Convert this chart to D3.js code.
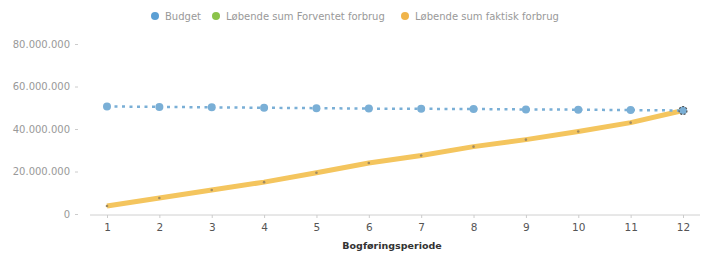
<!DOCTYPE html>
<html><head><meta charset="utf-8">
<script src="https://cdn.jsdelivr.net/npm/d3@7"></script>
<style>body{margin:0;background:#fff;}svg{display:block;font-family:"DejaVu Sans",Verdana,sans-serif;}</style>
</head><body><svg id="c" width="705" height="257"></svg>
<script>
const periods = [1,2,3,4,5,6,7,8,9,10,11,12];
const budget = [50600000,50400000,50200000,50000000,49800000,49600000,49500000,49400000,49200000,49100000,48900000,48700000];
const forventet = [3800000,7500000,11300000,15000000,19400000,24000000,27500000,31700000,35000000,38800000,43000000,48700000];
const faktisk = [3800000,7500000,11300000,15000000,19400000,24000000,27500000,31700000,35000000,38800000,43000000,48700000];
const yTicks = [0,20000000,40000000,60000000,80000000];
const seriesNames = ["Budget","Løbende sum Forventet forbrug","Løbende sum faktisk forbrug"];
const xTitle = "Bogføringsperiode";

const svg = d3.select("#c");
const x = d3.scaleLinear().domain([1,12]).range([107,683]);
const y = d3.scaleLinear().domain([0,80000000]).range([214,44]);
const loc = d3.formatLocale({decimal:",",thousands:".",grouping:[3],currency:["","kr"]});
const fmt = loc.format(",d");

// y axis labels
const ya = svg.append("g").attr("transform","translate(78,0)")
  .call(d3.axisLeft(y).tickValues(yTicks).tickFormat(fmt).tickSize(3).tickPadding(5))
  .attr("font-family","DejaVu Sans");
ya.select(".domain").remove();
ya.selectAll("line").attr("stroke","#ccc");
ya.selectAll("text").attr("fill","#999").style("font-size","10px");

// x axis
const xa = svg.append("g").attr("transform","translate(0,215)")
  .call(d3.axisBottom(x).tickValues(periods).tickFormat(d3.format("d")).tickSize(3).tickPadding(6))
  .attr("font-family","DejaVu Sans");
xa.select(".domain").attr("d","M90,0H700").attr("stroke","#d0d0d0");
xa.selectAll("line").attr("stroke","#ccc");
xa.selectAll("text").attr("fill","#555").style("font-size","10.5px");

svg.append("text").attr("x",392).attr("y",249).attr("text-anchor","middle")
  .style("font-size","9.5px").style("font-weight","bold").attr("fill","#333").text(xTitle);

const line = d3.line().x((d,i)=>x(periods[i])).y(d=>y(d));

// green (under orange)
svg.append("path").datum(forventet).attr("d",line).attr("fill","none")
  .attr("stroke","#8bc34a").attr("stroke-width",2);
// orange
svg.append("path").datum(faktisk).attr("d",line).attr("fill","none")
  .attr("stroke","#f4c55e").attr("stroke-width",5).attr("stroke-linejoin","round");
svg.append("g").selectAll("circle").data(faktisk).join("circle")
  .attr("cx",(d,i)=>x(periods[i])).attr("cy",d=>y(d)).attr("r",1.3).attr("fill","#a08a60");

// budget dashed
svg.append("path").datum(budget).attr("d",line).attr("fill","none")
  .attr("stroke","#7aafd6").attr("stroke-width",2.5).attr("stroke-dasharray","3,4.5");
svg.append("g").selectAll("circle").data(budget).join("circle")
  .attr("cx",(d,i)=>x(periods[i])).attr("cy",d=>y(d)).attr("r",4).attr("fill","#7aafd6");
svg.append("circle").attr("cx",x(12)).attr("cy",y(faktisk[11])).attr("r",4)
  .attr("fill","none").attr("stroke","#555").attr("stroke-width",1.2).attr("stroke-dasharray","2,1.5");

// legend
const colors = ["#5b9fd4","#8bc34a","#f0b44a"];
const legX = [155,216,405];
seriesNames.forEach((n,i)=>{
  svg.append("circle").attr("cx",legX[i]).attr("cy",16).attr("r",4).attr("fill",colors[i]);
  svg.append("text").attr("x",legX[i]+10).attr("y",19.5).style("font-size","10px")
    .attr("fill","#999").text(n);
});
</script></body></html>
